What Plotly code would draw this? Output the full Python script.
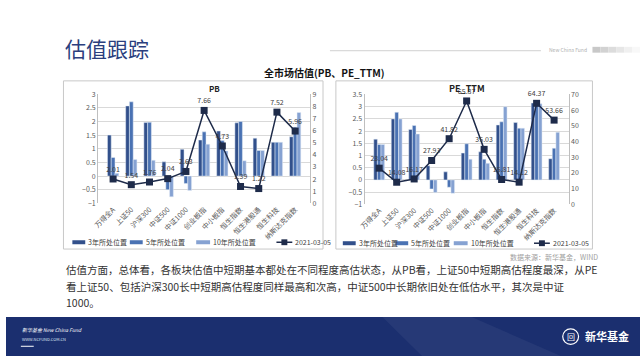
import plotly.graph_objects as go

categories = ["万得全A", "上证50", "沪深300", "中证500", "中证1000", "创业板指",
              "中小板指", "恒生指数", "恒生港股通", "恒生科技", "纳斯达克指数"]

pb_3y = [1.50, 2.57, 1.96, 0.52, 0.98, 1.32, 1.65, 1.95, 1.39, 1.24, 1.44]
pb_5y = [0.68, 2.72, 1.97, -0.50, -0.27, 1.62, 1.30, 2.00, 0.94, 1.24, 1.79]
pb_10y = [0.10, 0.61, 0.58, -0.76, -0.53, 1.17, 0.92, 0.56, 0.94, 1.24, 2.33]
pb_now = [2.01, 1.54, 1.76, 2.04, 2.63, 7.66, 4.73, 1.39, 1.22, 7.52, 5.96]

pe_3y = [1.67, 2.50, 2.07, 0.58, 0.33, 1.10, 1.15, 2.25, 2.35, 3.15, 0.87]
pe_5y = [1.45, 2.77, 2.23, -0.37, -0.30, 1.48, 0.85, 2.38, 2.12, 3.18, 1.30]
pe_10y = [1.45, 2.50, 1.88, -0.52, -0.55, 0.85, 0.68, 3.00, 2.12, 3.12, 1.95]
pe_now = [23.04, 14.08, 16.17, 27.93, 41.82, 65.87, 35.03, 15.81, 14.12, 64.37, 53.66]

series_names = ["3年所处位置", "5年所处位置", "10年所处位置", "2021-03-05"]
bar_colors = ["#32508B", "#4A72B3", "#86A2D2"]
line_color = "#1E2B4A"

W, H = 640, 360
def X(px): return px / W
def Y(py): return 1 - py / H

fig = go.Figure()

def add_panel(xa, ya, ya2, bars, now):
    for name, vals, c in zip(series_names[:3], bars, bar_colors):
        fig.add_trace(go.Bar(x=categories, y=vals, name=name, marker_color=c,
                             xaxis=xa, yaxis=ya, showlegend=False))
    fig.add_trace(go.Scatter(x=categories, y=now, name=series_names[3],
                             mode="lines+markers+text", text=[f"{v:.2f}" for v in now],
                             textposition="top center",
                             textfont=dict(size=7, color="#404040"),
                             line=dict(color=line_color, width=1.5),
                             marker=dict(symbol="square", size=7, color=line_color),
                             xaxis=xa, yaxis=ya2, showlegend=False, cliponaxis=False))

add_panel("x", "y", "y2", [pb_3y, pb_5y, pb_10y], pb_now)
add_panel("x2", "y3", "y4", [pe_3y, pe_5y, pe_10y], pe_now)

tickf = dict(size=7, color="#595959", family="Noto Sans CJK SC")
xcommon = dict(tickangle=-45, tickfont=tickf, showgrid=False, showline=False,
               ticks="", fixedrange=True)
ycommon = dict(tickfont=tickf, gridcolor="#D9D9D9", gridwidth=1, zeroline=False,
               showline=True, linecolor="#BFBFBF", linewidth=1, ticks="")

fig.update_layout(
    xaxis=dict(domain=[X(93), X(307)], anchor="y", **xcommon),
    yaxis=dict(domain=[Y(203), Y(90.7)], range=[-1, 3], dtick=0.5, anchor="x", **ycommon),
    yaxis2=dict(overlaying="y", side="right", range=[0, 9], dtick=1, anchor="x",
                showgrid=False, zeroline=False, tickfont=tickf, showline=True,
                linecolor="#BFBFBF"),
    xaxis2=dict(domain=[X(362), X(568)], anchor="y3", **xcommon),
    yaxis3=dict(domain=[Y(204), Y(91)], range=[-1, 3.5], dtick=0.5, anchor="x2", **ycommon),
    yaxis4=dict(overlaying="y3", side="right", range=[0, 70], dtick=10, anchor="x2",
                showgrid=False, zeroline=False, tickfont=tickf, showline=True,
                linecolor="#BFBFBF"),
    barmode="group", bargap=0.38, bargroupgap=0,
    width=W, height=H, margin=dict(l=0, r=0, t=0, b=0),
    paper_bgcolor="white", plot_bgcolor="white",
    font=dict(family="Noto Sans CJK SC"),
)

shapes = []
annos = []

def note(px, py, text, size, color, xanchor="center", yanchor="middle"):
    annos.append(dict(xref="paper", yref="paper", x=X(px), y=Y(py), text=text,
                      showarrow=False, xanchor=xanchor, yanchor=yanchor,
                      font=dict(size=size, color=color)))

# header
note(58, 43, "估值跟踪", 21, "#2B3F7E", xanchor="left")
shapes.append(dict(type="line", xref="paper", yref="paper", x0=X(327), x1=X(540),
                   y0=Y(46), y1=Y(46), line=dict(color="#D0D0D0", width=1)))
note(546, 45, "New China Fund", 5, "#B0B0B0", xanchor="left")
for i, c in enumerate(["#C8C8C8", "#D2D2D2", "#DCDCDC", "#E6E6E6", "#F0F0F0", "#F8F8F8"]):
    shapes.append(dict(type="rect", xref="paper", yref="paper", x0=X(592 + i * 8),
                       x1=X(600 + i * 8), y0=Y(48), y1=Y(42), fillcolor=c, line_width=0))

# chart title and frames
note(322, 68, "<b>全市场估值(PB、PE_TTM)</b>", 10, "#111111")
for x0, x1 in [(58, 320), (333, 592)]:
    shapes.append(dict(type="rect", xref="paper", yref="paper", x0=X(x0), x1=X(x1),
                       y0=Y(250), y1=Y(77), line=dict(color="#C8C8C8", width=1),
                       fillcolor="rgba(0,0,0,0)", layer="below"))
note(210, 85, "<b>PB</b>", 8, "#222222")
note(465, 85, "<b>PE_TTM</b>", 9, "#222222")

# manual legends
def legend(base_y, items):
    for (mx0, mx1, tx), name, idx in zip(items, series_names, range(4)):
        if idx < 3:
            shapes.append(dict(type="line", xref="paper", yref="paper", x0=X(mx0), x1=X(mx1),
                               y0=Y(base_y), y1=Y(base_y),
                               line=dict(color=bar_colors[idx], width=4)))
        else:
            shapes.append(dict(type="line", xref="paper", yref="paper", x0=X(mx0), x1=X(mx1),
                               y0=Y(base_y), y1=Y(base_y), line=dict(color=line_color, width=1.5)))
            mid = (mx0 + mx1) / 2
            shapes.append(dict(type="rect", xref="paper", yref="paper", x0=X(mid - 3),
                               x1=X(mid + 3), y0=Y(base_y + 3), y1=Y(base_y - 3),
                               fillcolor=line_color, line_width=0))
        note(tx, base_y, name, 7, "#404040", xanchor="left")

legend(243, [(67, 80, 81), (125, 138, 139), (192, 206, 207), (273, 289, 290)])
legend(244, [(340, 353, 354), (393, 406, 407), (452, 466, 467), (533, 549, 550)])

# source & paragraph
note(600, 258, "数据来源：新华基金，WIND", 7, "#A0A0A0", xanchor="right")
para = ["估值方面，总体看，各板块估值中短期基本都处在不同程度高估状态，从PB看，上证50中短期高估程度最深，从PE",
        "看上证50、包括沪深300长中短期高估程度同样最高和次高，中证500中长期依旧处在低估水平，其次是中证",
        "1000。"]
for i, line in enumerate(para):
    note(59, 271 + i * 17, line, 10.5, "#333333", xanchor="left")

# footer
shapes.append(dict(type="rect", xref="paper", yref="paper", x0=0, x1=1, y0=0, y1=Y(320),
                   fillcolor="#1B2F6F", line_width=0))
shapes.append(dict(type="path", xref="paper", yref="paper",
                   path=f"M {X(380)} {Y(320)} L {X(470)} {Y(320)} L {X(560)} 0 L {X(420)} 0 Z",
                   fillcolor="rgba(255,255,255,0.05)", line_width=0))
note(14, 333, "<i>新华基金 New China Fund</i>", 5, "white", xanchor="left")
note(14, 342, "WWW.NCFUND.COM.CN", 4, "#DDE3F0", xanchor="left")
shapes.append(dict(type="line", xref="paper", yref="paper", x0=X(15), x1=X(28),
                   y0=Y(350), y1=Y(350), line=dict(color="white", width=1)))
shapes.append(dict(type="circle", xref="paper", yref="paper", x0=X(562), x1=X(578),
                   y0=Y(348), y1=Y(332), line=dict(color="white", width=1.2)))
note(570, 340, "回", 8, "white")
note(582, 339, "<b>新华基金</b>", 11, "white", xanchor="left")

fig.update_layout(shapes=shapes, annotations=annos)
fig.write_html("out.html", config={"displayModeBar": False},
               post_script="document.body.style.margin='0';")
